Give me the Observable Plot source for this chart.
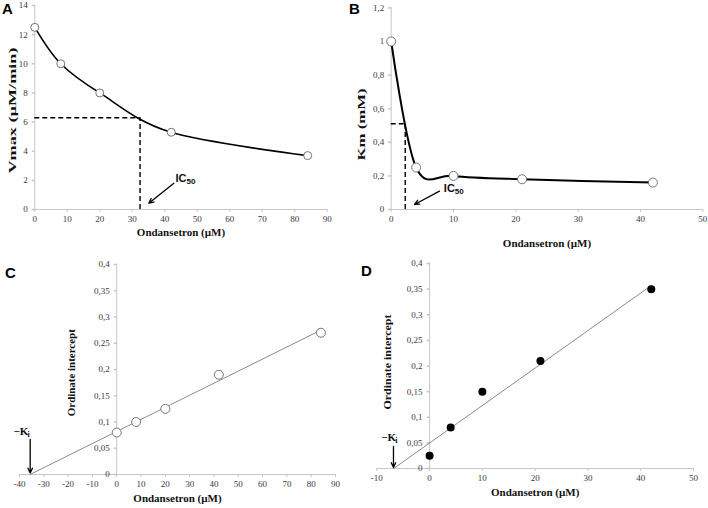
<!DOCTYPE html>
<html><head><meta charset="utf-8">
<script src="https://cdn.jsdelivr.net/npm/d3@7"></script>
<script src="https://cdn.jsdelivr.net/npm/@observablehq/plot@0.6"></script>
<style>
body{margin:0;background:#fff;}
#wrap{position:relative;width:708px;height:508px;overflow:hidden;background:#fff;}
.panel{position:absolute;}
.letter{position:absolute;font-family:"Liberation Sans",Arial,sans-serif;font-weight:bold;font-size:15px;line-height:15px;color:#000;}
</style></head><body><div id="wrap"></div>
<script>
// ---- data ----
const concA = [0, 8, 20, 42, 84];
const vmaxA = [12.5, 10, 8, 5.3, 3.7];
const ic50A = [32.4, 6.3];            // [x, half value]
const icTextA = [43.3, 2.1];
const icArrowA = [42.8, 1.8, 35.1, 0.43];

const concB = [0, 4, 10, 21, 42];
const kmB = [1, 0.25, 0.2, 0.18, 0.16];
const ic50B = [2.25, 0.51];
const icTextB = [8.45, 0.123];
const icArrowB = [7.75, 0.109, 3.74, 0.03];

const concC = [0, 8, 20, 42, 84];
const interceptC = [0.08, 0.1, 0.125, 0.19, 0.27];
const fitCx = [-35.7, 84], fitCy = [0, 0.275];
const kiC = [-35.6, 0.067, 0.003];    // [x, arrow top, arrow tip]
const kiTextC = [-42.5, 0.0825];

const concD = [0, 4, 10, 21, 42];
const interceptD = [0.025, 0.08, 0.15, 0.21, 0.35];
const fitDx = [-6.8, 42], fitDy = [0, 0.357];
const kiD = [-6.84, 0.043, 0.002];
const kiTextD = [-9.17, 0.061];

const ticksXA = [0, 10, 20, 30, 40, 50, 60, 70, 80, 90];
const ticksYA = [0, 2, 4, 6, 8, 10, 12, 14];
const ticksXB = [0, 10, 20, 30, 40, 50];
const ticksYB = [0, 0.2, 0.4, 0.6, 0.8, 1, 1.2];
const ticksXC = [-40, -30, -20, -10, 0, 10, 20, 30, 40, 50, 60, 70, 80, 90];
const ticksYC = [0, 0.05, 0.1, 0.15, 0.2, 0.25, 0.3, 0.35, 0.4];
const ticksXD = [-10, 0, 10, 20, 30, 40, 50];
const ticksYD = [0, 0.05, 0.1, 0.15, 0.2, 0.25, 0.3, 0.35, 0.4];

const xTitle = "Ondansetron (µM)";

// ---- styles ----
const serif = "Liberation Serif";
const sans = "Liberation Sans";
const axisColor = "#c6c6c6";
const tickText = "#3a3a3a";
const fmt = d => String(d).replace(".", ",");
const tickLeft = {draw(ctx) { ctx.moveTo(0, 0); ctx.lineTo(-3, 0); }};

function makePanel(cfg) {
  const marks = [
    Plot.ruleY([0], {stroke: axisColor}),
    Plot.ruleX([0], {stroke: axisColor}),
    Plot.axisX(cfg.xTicks, {tickSize: 3, tickPadding: 3, stroke: axisColor, fill: tickText, fontFamily: serif, fontSize: 9, tickFormat: fmt}),
    Plot.dot(cfg.yTicks, {x: 0, y: d => d, symbol: tickLeft, stroke: axisColor, fill: "none"}),
    Plot.text(cfg.yTicks, {x: 0, y: d => d, text: d => fmt(d), dx: -7, textAnchor: "end", fill: tickText, fontFamily: serif, fontSize: 9}),
    Plot.text([xTitle], {frameAnchor: "bottom", text: d => d, dy: cfg.xLabelDy, fontFamily: serif, fontWeight: "bold", fontSize: 11, fill: "#111"}),
    Plot.text([cfg.yLabel], {frameAnchor: "left", text: d => d, dx: cfg.yLabelDx, dy: cfg.yLabelDy, rotate: -90, textAnchor: "start", fontFamily: serif, fontWeight: "bold", fontSize: 11, fill: "#111"}),
    ...cfg.marks
  ];
  const svg = Plot.plot({
    width: 354, height: 254,
    marginLeft: cfg.m[0], marginRight: cfg.m[1], marginTop: cfg.m[2], marginBottom: cfg.m[3],
    x: {domain: cfg.xDomain},
    y: {domain: cfg.yDomain, axis: null},
    style: {background: "transparent", overflow: "visible"},
    marks
  });
  d3.select(svg).selectAll("text").filter(function() { return this.textContent === cfg.yLabel; })
    .attr("textLength", cfg.yLabelLen).attr("lengthAdjust", "spacingAndGlyphs");
  const div = document.createElement("div");
  div.className = "panel";
  div.style.left = cfg.left + "px";
  div.style.top = cfg.top + "px";
  div.appendChild(svg);
  document.getElementById("wrap").appendChild(div);
}

function icMarks(textPos, arrow) {
  return [
    Plot.arrow([0], {x1: arrow[0], y1: arrow[1], x2: arrow[2], y2: arrow[3], stroke: "#000", strokeWidth: 1.3, headLength: 6, headAngle: 50}),
    Plot.text(["IC"], {x: textPos[0], y: textPos[1], text: d => d, textAnchor: "start", fontFamily: sans, fontWeight: "bold", fontSize: 11, fill: "#111"}),
    Plot.text(["50"], {x: textPos[0], y: textPos[1], text: d => d, textAnchor: "start", dx: 11, dy: 3, fontFamily: sans, fontWeight: "bold", fontSize: 8, fill: "#111"})
  ];
}
function kiMarks(textPos, ki) {
  return [
    Plot.arrow([0], {x1: ki[0], y1: ki[1], x2: ki[0], y2: ki[2], stroke: "#000", strokeWidth: 1.3, headLength: 6, headAngle: 50}),
    Plot.text(["−K"], {x: textPos[0], y: textPos[1], text: d => d, textAnchor: "start", fontFamily: serif, fontWeight: "bold", fontSize: 11, fill: "#111"}),
    Plot.text(["i"], {x: textPos[0], y: textPos[1], text: d => d, textAnchor: "start", dx: 14, dy: 3, fontFamily: serif, fontWeight: "bold", fontSize: 8, fill: "#111"})
  ];
}

// Panel A
makePanel({
  left: 0, top: 0, m: [34.3, 27.3, 5, 45],
  xDomain: [0, 90], yDomain: [0, 14], xTicks: ticksXA, yTicks: ticksYA,
  yLabel: "Vmax (µM/min)", xLabelDy: 26, yLabelDx: -22.5, yLabelDy: 66, yLabelLen: 126,
  marks: [
    Plot.ruleY([ic50A[1]], {x1: 0, x2: ic50A[0], stroke: "#000", strokeWidth: 1.4, strokeDasharray: "5,3"}),
    Plot.ruleX([ic50A[0]], {y1: 0, y2: ic50A[1], stroke: "#000", strokeWidth: 1.4, strokeDasharray: "5,3"}),
    Plot.line(vmaxA, {x: concA, y: vmaxA, curve: "cardinal", stroke: "#000", strokeWidth: 1.6}),
    Plot.dot(vmaxA, {x: concA, y: vmaxA, r: 4, fill: "#fff", stroke: "#666", strokeWidth: 0.9}),
    ...icMarks(icTextA, icArrowA)
  ]
});

// Panel B
makePanel({
  left: 354, top: 0, m: [36.7, 5.7, 7.4, 45],
  xDomain: [0, 50], yDomain: [0, 1.2], xTicks: ticksXB, yTicks: ticksYB,
  yLabel: "Km (mM)", xLabelDy: 37, yLabelDx: -30, yLabelDy: 51.8, yLabelLen: 72,
  marks: [
    Plot.ruleY([ic50B[1]], {x1: 0, x2: ic50B[0], stroke: "#000", strokeWidth: 1.4, strokeDasharray: "5,3"}),
    Plot.ruleX([ic50B[0]], {y1: 0, y2: ic50B[1], stroke: "#000", strokeWidth: 1.4, strokeDasharray: "5,3"}),
    Plot.line(kmB, {x: concB, y: kmB, curve: "cardinal", stroke: "#000", strokeWidth: 2}),
    Plot.dot(kmB, {x: concB, y: kmB, r: 4.5, fill: "#fff", stroke: "#666", strokeWidth: 0.9}),
    ...icMarks(icTextB, icArrowB)
  ]
});

// Panel C
makePanel({
  left: 0, top: 254, m: [19, 19, 10, 34],
  xDomain: [-40, 90], yDomain: [0, 0.4], xTicks: ticksXC, yTicks: ticksYC,
  yLabel: "Ordinate intercept", xLabelDy: 27.7, yLabelDx: 52, yLabelDy: 46.7, yLabelLen: 87,
  marks: [
    Plot.line(fitCy, {x: fitCx, y: fitCy, stroke: "#8a8a8a", strokeWidth: 1}),
    Plot.dot(interceptC, {x: concC, y: interceptC, r: 4.5, fill: "#fff", stroke: "#666", strokeWidth: 0.9}),
    ...kiMarks(kiTextC, kiC)
  ]
});

// Panel D
makePanel({
  left: 354, top: 254, m: [22.3, 15, 9, 40],
  xDomain: [-10, 50], yDomain: [0, 0.4], xTicks: ticksXD, yTicks: ticksYD,
  yLabel: "Ordinate intercept", xLabelDy: 27.7, yLabelDx: 10.7, yLabelDy: 43.5, yLabelLen: 95,
  marks: [
    Plot.line(fitDy, {x: fitDx, y: fitDy, stroke: "#8a8a8a", strokeWidth: 1}),
    Plot.dot(interceptD, {x: concD, y: interceptD, r: 4, fill: "#000"}),
    ...kiMarks(kiTextD, kiD)
  ]
});

// panel letters
[["A", 2, 1], ["B", 349, 1], ["C", 5, 265], ["D", 361, 263]].forEach(([t, x, y]) => {
  const el = document.createElement("div");
  el.className = "letter";
  el.textContent = t;
  el.style.left = x + "px";
  el.style.top = y + "px";
  document.getElementById("wrap").appendChild(el);
});
</script>
</body></html>
